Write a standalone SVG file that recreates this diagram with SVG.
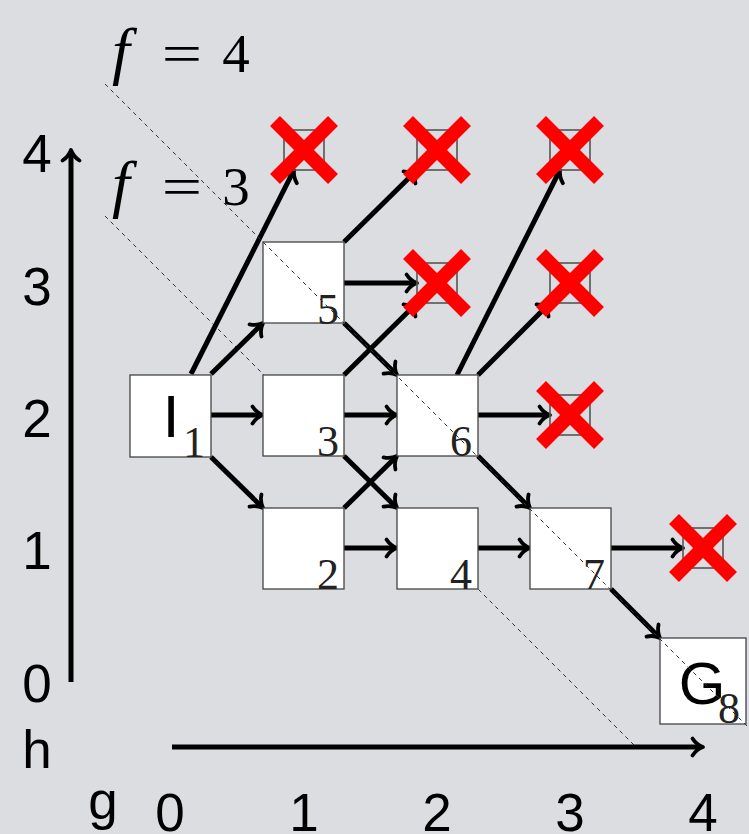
<svg xmlns="http://www.w3.org/2000/svg" width="749" height="834" viewBox="0 0 749 834">
  <style>
    .axis-label { font-family: "Liberation Sans", Arial, sans-serif; font-size: 53px; fill: #000; text-anchor: middle; }
    .fmath { font-family: "Liberation Serif", "Times New Roman", serif; font-size: 55px; fill: #000; }
    .fvar { font-family: "Liberation Serif", "Times New Roman", serif; font-size: 64px; font-style: italic; fill: #000; }
    .node rect.big { fill: #fff; stroke: #444; stroke-width: 1.3; }
    .node rect.small { fill: none; stroke: #555; stroke-width: 1.6; }
    .node .name { font-family: "Liberation Sans", Arial, sans-serif; font-size: 60px; fill: #000; text-anchor: middle; }
    .node .idx { font-family: "Liberation Serif", "Times New Roman", serif; font-size: 44px; fill: #222; text-anchor: end; }
    .edge { stroke: #000; stroke-width: 5; fill: none; marker-end: url(#arrow); }
    .contour { stroke: #333; stroke-width: 1; stroke-dasharray: 4 4; fill: none; }
    .cross line { stroke: #ff0000; stroke-width: 14; stroke-linecap: butt; }
  </style>
  <defs>
    <marker id="arrow" markerUnits="userSpaceOnUse" viewBox="-12 -11 18 22" markerWidth="18" markerHeight="22" refX="0" refY="0" orient="auto" overflow="visible">
      <path d="M -8,-8.5 C -5,-3.8 0,-0.9 2.5,0 C 0,0.9 -5,3.8 -8,8.5" fill="none" stroke="#000" stroke-width="3.8" stroke-linecap="round" stroke-linejoin="round"/>
    </marker>
  </defs>

  <!-- background -->
  <rect x="0" y="0" width="749" height="834" fill="#dcdde0"/>

  <!-- contour f = 3 (lies beneath the nodes) -->
  <line class="contour" x1="105" y1="216" x2="634" y2="745"/>

  <!-- axes -->
  <g id="axes">
    <line class="edge" x1="71" y1="682" x2="71" y2="152.5"/>
    <line class="edge" x1="172" y1="747" x2="700.5" y2="747"/>
    <text class="axis-label" x="37" y="172">4</text>
    <text class="axis-label" x="37" y="305">3</text>
    <text class="axis-label" x="37" y="437">2</text>
    <text class="axis-label" x="37" y="569">1</text>
    <text class="axis-label" x="37" y="702">0</text>
    <text class="axis-label" x="37" y="768">h</text>
    <text class="axis-label" x="103" y="819">g</text>
    <text class="axis-label" x="170" y="831">0</text>
    <text class="axis-label" x="304" y="831">1</text>
    <text class="axis-label" x="437" y="831">2</text>
    <text class="axis-label" x="570" y="831">3</text>
    <text class="axis-label" x="703" y="831">4</text>
  </g>

  <!-- connectors -->
  <g id="edges">
    <!-- from I -->
    <line class="edge" x1="191" y1="374" x2="292.9" y2="172.2"/>
    <line class="edge" x1="211" y1="374" x2="261.2" y2="324.8"/>
    <line class="edge" x1="211" y1="415" x2="260.5" y2="415"/>
    <line class="edge" x1="211" y1="457" x2="261.2" y2="506.2"/>
    <!-- from 5 -->
    <line class="edge" x1="344" y1="242" x2="415.2" y2="171.8"/>
    <line class="edge" x1="344" y1="283" x2="414.5" y2="283"/>
    <line class="edge" x1="344" y1="323" x2="395.2" y2="373.2"/>
    <!-- from 3 -->
    <line class="edge" x1="344" y1="375" x2="415.2" y2="304.8"/>
    <line class="edge" x1="344" y1="415" x2="394.5" y2="415"/>
    <line class="edge" x1="344" y1="456" x2="395.2" y2="506.2"/>
    <!-- from 2 -->
    <line class="edge" x1="344" y1="508" x2="395.2" y2="457.8"/>
    <line class="edge" x1="344" y1="548" x2="394.5" y2="548"/>
    <!-- from 6 -->
    <line class="edge" x1="457" y1="375" x2="558.9" y2="172.2"/>
    <line class="edge" x1="478" y1="375" x2="548.2" y2="304.8"/>
    <line class="edge" x1="478" y1="415" x2="547.5" y2="415"/>
    <line class="edge" x1="478" y1="456" x2="528.2" y2="506.2"/>
    <!-- from 4 -->
    <line class="edge" x1="478" y1="548" x2="527.5" y2="548"/>
    <!-- from 7 -->
    <line class="edge" x1="611" y1="548" x2="680.5" y2="548"/>
    <line class="edge" x1="611" y1="589" x2="658.2" y2="636.2"/>
  </g>

  <!-- expanded nodes -->
  <g id="node-1" class="node">
    <rect class="big" x="130" y="375" width="81" height="82"/>
    <text class="name" x="171" y="437">I</text>
    <text class="idx" x="205" y="457">1</text>
  </g>
  <g id="node-5" class="node">
    <rect class="big" x="263" y="242" width="81" height="81"/>
    <text class="idx" x="339" y="324">5</text>
  </g>
  <g id="node-3" class="node">
    <rect class="big" x="263" y="375" width="81" height="81"/>
    <text class="idx" x="339" y="456">3</text>
  </g>
  <g id="node-2" class="node">
    <rect class="big" x="263" y="508" width="81" height="81"/>
    <text class="idx" x="339" y="589">2</text>
  </g>
  <g id="node-6" class="node">
    <rect class="big" x="397" y="375" width="81" height="81"/>
    <text class="idx" x="472" y="456">6</text>
  </g>
  <g id="node-4" class="node">
    <rect class="big" x="397" y="508" width="81" height="81"/>
    <text class="idx" x="472" y="589">4</text>
  </g>
  <g id="node-7" class="node">
    <rect class="big" x="530" y="508" width="81" height="81"/>
    <text class="idx" x="605" y="589">7</text>
  </g>
  <g id="node-8" class="node">
    <rect class="big" x="660" y="638" width="86" height="86"/>
    <text class="name" x="702" y="704">G</text>
    <text class="idx" x="740" y="723">8</text>
  </g>

  <!-- pruned nodes -->
  <g id="pruned-1-4" class="node"><rect class="small" x="284" y="130" width="40" height="40"/></g>
  <g id="pruned-2-4" class="node"><rect class="small" x="417" y="130" width="40" height="40"/></g>
  <g id="pruned-3-4" class="node"><rect class="small" x="550" y="130" width="40" height="40"/></g>
  <g id="pruned-2-3" class="node"><rect class="small" x="417" y="263" width="40" height="40"/></g>
  <g id="pruned-3-3" class="node"><rect class="small" x="550" y="263" width="40" height="40"/></g>
  <g id="pruned-3-2" class="node"><rect class="small" x="550" y="395" width="40" height="40"/></g>
  <g id="pruned-4-1" class="node"><rect class="small" x="683" y="528" width="40" height="40"/></g>

  <!-- contour f = 4 (drawn over the nodes) -->
  <line class="contour" x1="105" y1="84" x2="749" y2="728"/>

  <!-- contour labels -->
  <g id="contour-labels">
    <text class="fvar" x="112" y="72">f</text>
    <text class="fmath" x="182" y="72" text-anchor="middle" transform="translate(182 0) scale(1.3 1) translate(-182 0)">=</text>
    <text class="fmath" x="236" y="72" text-anchor="middle">4</text>
    <text class="fvar" x="112" y="205">f</text>
    <text class="fmath" x="182" y="205" text-anchor="middle" transform="translate(182 0) scale(1.3 1) translate(-182 0)">=</text>
    <text class="fmath" x="236" y="205" text-anchor="middle">3</text>
  </g>

  <!-- red crosses over pruned nodes -->
  <g id="crosses" class="cross">
    <g transform="translate(304 150)"><line x1="-29" y1="-29" x2="29" y2="29"/><line x1="-29" y1="29" x2="29" y2="-29"/></g>
    <g transform="translate(437 150)"><line x1="-29" y1="-29" x2="29" y2="29"/><line x1="-29" y1="29" x2="29" y2="-29"/></g>
    <g transform="translate(570 150)"><line x1="-29" y1="-29" x2="29" y2="29"/><line x1="-29" y1="29" x2="29" y2="-29"/></g>
    <g transform="translate(437 283)"><line x1="-29" y1="-29" x2="29" y2="29"/><line x1="-29" y1="29" x2="29" y2="-29"/></g>
    <g transform="translate(570 283)"><line x1="-29" y1="-29" x2="29" y2="29"/><line x1="-29" y1="29" x2="29" y2="-29"/></g>
    <g transform="translate(570 415)"><line x1="-29" y1="-29" x2="29" y2="29"/><line x1="-29" y1="29" x2="29" y2="-29"/></g>
    <g transform="translate(703 548)"><line x1="-29" y1="-29" x2="29" y2="29"/><line x1="-29" y1="29" x2="29" y2="-29"/></g>
  </g>
</svg>
